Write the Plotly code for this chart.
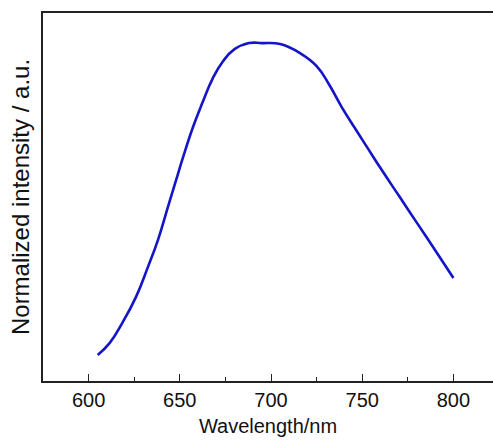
import plotly.graph_objects as go

# Emission spectrum, normalized to the peak
wavelength = [605, 611.5, 618.5, 626, 632.5, 638, 643.5, 648, 651.5, 657, 662.5, 668,
              673.5, 680, 688, 695, 705, 716, 725, 732, 739, 747, 753, 761, 770.5,
              780, 791, 800]
intensity = [0.077, 0.112, 0.172, 0.249, 0.337, 0.417, 0.515, 0.595, 0.657, 0.748,
             0.825, 0.895, 0.945, 0.982, 1.0, 1.0, 0.997, 0.970, 0.932, 0.876,
             0.808, 0.740, 0.689, 0.622, 0.545, 0.468, 0.379, 0.305]

x_ticks = [600, 650, 700, 750, 800]

fig = go.Figure(
    go.Scatter(
        x=wavelength, y=intensity, mode="lines",
        line=dict(color="#1414c8", width=2.6, shape="spline", smoothing=1.3),
    )
)

font_family = "Liberation Sans, Arial, sans-serif"
axis_color = "#222222"

fig.update_layout(
    width=493, height=440,
    margin=dict(l=43, r=0, t=13, b=59),
    paper_bgcolor="white", plot_bgcolor="white",
    showlegend=False,
    font=dict(family=font_family, size=20, color="#111111"),
)

fig.update_xaxes(
    range=[575, 821.7],
    tickvals=x_ticks,
    ticks="inside", ticklen=7, tickwidth=1.2, tickcolor=axis_color,
    minor=dict(dtick=25, tick0=575, ticks="inside", ticklen=4, tickwidth=1.2, tickcolor=axis_color),
    showline=True, linecolor=axis_color, linewidth=1.5, mirror=True,
    showgrid=False, zeroline=False,
    tickfont=dict(size=20),
    title=dict(text="Wavelength/nm", font=dict(size=20), standoff=9),
)

fig.update_yaxes(
    range=[0, 1.089],
    showticklabels=False, ticks="",
    showline=True, linecolor=axis_color, linewidth=1.5, mirror=False,
    showgrid=False, zeroline=False,
    title=dict(text="Normalized intensity / a.u.", font=dict(size=24), standoff=5),
)

fig.write_html("out.html")
